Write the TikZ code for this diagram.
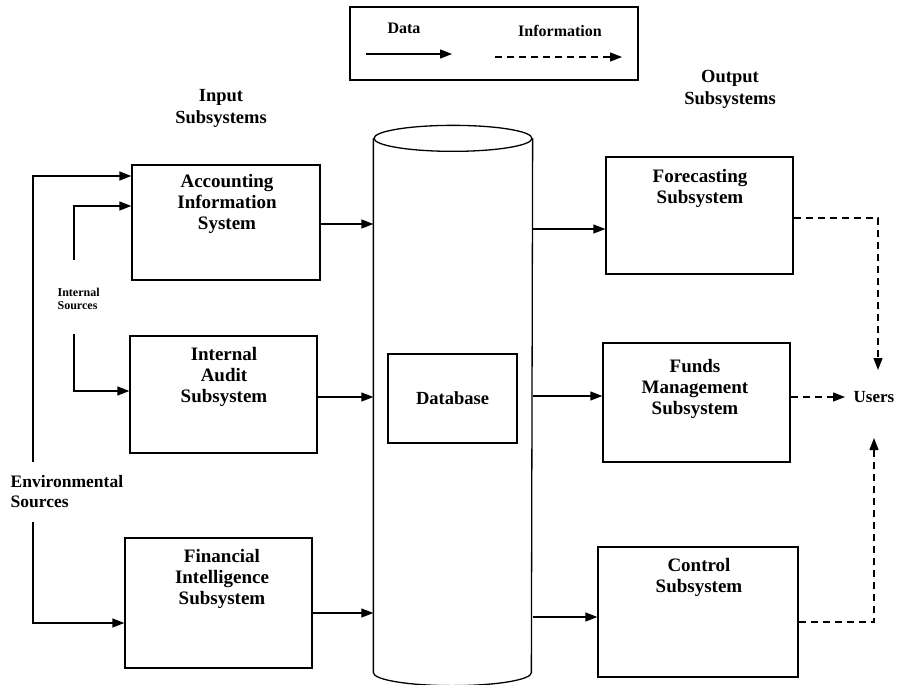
\documentclass[tikz,border=0pt]{standalone}
\usepackage{fontspec}
\setmainfont{Liberation Serif}
\usetikzlibrary{arrows.meta}
\begin{document}
\begin{tikzpicture}[x=1pt,y=-1pt,
  line width=1.3pt,
  every node/.style={inner sep=0pt,font=\bfseries},
  box/.style={draw,rectangle,minimum width=#1},
  boxtext/.style={anchor=north,align=center,font=\bfseries\fontsize{19}{21}\selectfont},
  head/.style={align=center,font=\bfseries\fontsize{18.5}{22}\selectfont},
  tip/.style={-{Triangle[length=12pt,width=9pt]}},
  data/.style={tip},
  info/.style={tip,dashed,dash pattern=on 7pt off 5pt}]
\useasboundingbox (0,0) rectangle (916,685);

% legend
\node[draw,rectangle,minimum width=288pt,minimum height=73pt] (legend) at (494,43.5) {};
\node[anchor=north,font=\bfseries\fontsize{16}{18}\selectfont] (ldata) at (404,22) {Data};
\node[anchor=north,font=\bfseries\fontsize{16}{18}\selectfont] (linfo) at (560,25) {Information};
\coordinate (d1) at (366,54); \coordinate (d2) at (452,54);
\coordinate (i1) at (495,57); \coordinate (i2) at (622,57);
\draw[data] (d1) -- (d2);
\draw[info] (i1) -- (i2);

% headings
\node[head,anchor=north] (inhead) at (221,89) {Input\\Subsystems};
\node[head,anchor=north] (outhead) at (730,70) {Output\\Subsystems};

% database cylinder
\node[minimum width=158pt,minimum height=533pt] (db) at (453,405.5) {};
\draw (db.north west) -- (db.south west)
      arc[start angle=180,end angle=360,x radius=79pt,y radius=13pt]
      -- (db.north east);
\draw (db.north) ellipse[x radius=79pt,y radius=13pt];
\node[draw,rectangle,minimum width=129pt,minimum height=89pt] (dbbox) at (452.5,398.5) {};
\node[font=\bfseries\fontsize{18.5}{20}\selectfont] (dbtext) at (dbbox) {Database};

% input subsystems
\node[draw,rectangle,minimum width=188pt,minimum height=115pt] (acc) at (226,222.5) {};
\node[boxtext] (acct) at (227,174) {Accounting\\Information\\System};
\node[draw,rectangle,minimum width=187pt,minimum height=117pt] (aud) at (223.5,394.5) {};
\node[boxtext] (audt) at (224,347) {Internal\\Audit\\Subsystem};
\node[draw,rectangle,minimum width=187pt,minimum height=130pt] (fin) at (218.5,603) {};
\node[boxtext] (fint) at (222,549) {Financial\\Intelligence\\Subsystem};

% output subsystems
\node[draw,rectangle,minimum width=187pt,minimum height=117pt] (fore) at (699.5,215.5) {};
\node[boxtext] (foret) at (700,169) {Forecasting\\Subsystem};
\node[draw,rectangle,minimum width=187pt,minimum height=119pt] (fund) at (696.5,402.5) {};
\node[boxtext] (fundt) at (695,359) {Funds\\Management\\Subsystem};
\node[draw,rectangle,minimum width=200pt,minimum height=130pt] (ctrl) at (698,612) {};
\node[boxtext] (ctrlt) at (699,558) {Control\\Subsystem};

% source labels
\node[anchor=north west,align=left,font=\bfseries\fontsize{17.5}{20}\selectfont] (env) at (10,475) {Environmental\\Sources};
\node[anchor=north west,align=left,font=\bfseries\fontsize{12}{12.5}\selectfont] (intsrc) at (57,288) {Internal\\Sources};
\node[anchor=west,font=\bfseries\fontsize{17}{19}\selectfont] (users) at (853,397) {Users};

% environmental source lines
\coordinate (envtop) at (33,462);
\coordinate (envbot) at (33,522);
\draw[data] (envtop) |- (acc.west |- 0,176);
\draw[data] (envbot) |- (fin.west |- 0,623);
% internal source lines
\coordinate (inttop) at (74,260);
\coordinate (intbot) at (74,334);
\draw[data] (inttop) |- (acc.west |- 0,206);
\draw[data] (intbot) |- (aud.west |- 0,391);

% data into the database
\draw[data] (acc.east |- 0,224) -- (db.west |- 0,224);
\draw[data] (aud.east |- 0,397) -- (db.west |- 0,397);
\draw[data] (fin.east |- 0,613) -- (db.west |- 0,613);

% data out of the database
\draw[data] (db.east |- 0,229) -- (fore.west |- 0,229);
\draw[data] (db.east |- 0,396) -- (fund.west |- 0,396);
\draw[data] (db.east |- 0,617) -- (ctrl.west |- 0,617);

% information to users
\coordinate (udown) at (878,370);
\coordinate (uup) at (874,438);
\coordinate (uleft) at (845,397);
\draw[info] (fore.east |- 0,218) -| (udown);
\draw[info] (fund.east |- 0,397) -- (uleft);
\draw[info] (ctrl.east |- 0,622) -| (uup);
\end{tikzpicture}
\end{document}
